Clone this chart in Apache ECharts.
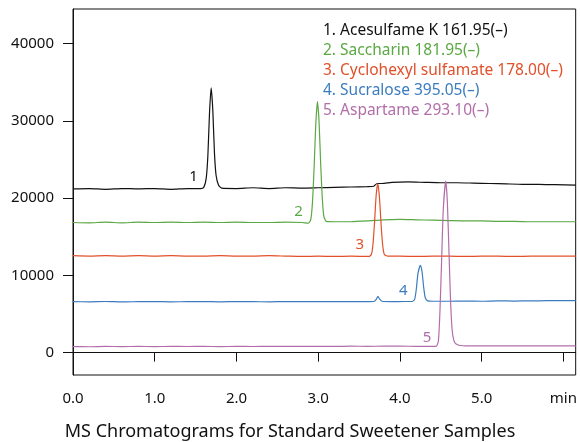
<!DOCTYPE html>
<html>
<head>
<meta charset="utf-8">
<script src="https://cdn.jsdelivr.net/npm/echarts@6/dist/echarts.min.js"></script>
<style>
html, body { margin: 0; padding: 0; background: #fff; }
#main { width: 580px; height: 442px; }
</style>
</head>
<body>
<div id="main"></div>
<script>
// 图例名称
var seriesNames = [
    '1. Acesulfame K 161.95(\u2013)',
    '2. Saccharin 181.95(\u2013)',
    '3. Cyclohexyl sulfamate 178.00(\u2013)',
    '4. Sucralose 395.05(\u2013)',
    '5. Aspartame 293.10(\u2013)'
];
var colorArr = ['#111111', '#5aa843', '#e2502a', '#3b7cc0', '#b26ea9'];

// 坐标轴刻度
var xTicks = [0, 1, 2, 3, 4, 5, 6];
var yTicks = [0, 10000, 20000, 30000, 40000];

// 各色谱数据 [时间(min), 强度]
var acesulfame = [
    [0, 21200], [0.2, 21250], [0.4, 21150], [0.6, 21250], [0.8, 21200], [1.0, 21250],
    [1.2, 21150], [1.4, 21250], [1.56, 21250], [1.60, 21400], [1.63, 22600], [1.65, 25500],
    [1.67, 31000], [1.69, 34300], [1.71, 31500], [1.73, 26000], [1.75, 23000], [1.78, 21700],
    [1.82, 21300], [2.0, 21250], [2.2, 21350], [2.4, 21250], [2.6, 21350], [2.8, 21300],
    [3.0, 21350], [3.2, 21400], [3.4, 21450], [3.6, 21500], [3.68, 21550], [3.72, 21900],
    [3.78, 21900], [3.9, 22050], [4.1, 22100], [4.3, 22050], [4.5, 22000], [4.7, 22000],
    [4.9, 21950], [5.1, 21900], [5.3, 21850], [5.5, 21800], [5.7, 21800], [5.9, 21750],
    [6.15, 21700]
];
var saccharin = [
    [0, 16850], [0.2, 16800], [0.4, 16900], [0.6, 16800], [0.8, 16900], [1.0, 16850],
    [1.2, 16900], [1.4, 16850], [1.6, 16900], [1.8, 16850], [2.0, 16900], [2.2, 16850],
    [2.4, 16850], [2.6, 16900], [2.8, 16850], [2.88, 16750], [2.91, 17300], [2.93, 19500],
    [2.95, 24000], [2.97, 29500], [2.99, 32500], [3.01, 30000], [3.03, 24500], [3.05, 20000],
    [3.07, 17600], [3.10, 17000], [3.2, 16950], [3.4, 16950], [3.6, 17050], [3.8, 17200],
    [4.0, 17250], [4.2, 17200], [4.4, 17150], [4.6, 17100], [4.8, 17050], [5.0, 17050],
    [5.2, 17000], [5.4, 17000], [5.6, 16950], [5.8, 16950], [6.15, 16950]
];
var cyclamate = [
    [0, 12550], [0.2, 12500], [0.4, 12550], [0.6, 12500], [0.8, 12550], [1.0, 12500],
    [1.2, 12550], [1.4, 12500], [1.6, 12500], [1.8, 12550], [2.0, 12500], [2.2, 12500],
    [2.4, 12550], [2.6, 12500], [2.8, 12450], [3.0, 12500], [3.2, 12450], [3.4, 12500],
    [3.62, 12450], [3.65, 12700], [3.67, 14000], [3.69, 17000], [3.71, 20500], [3.73, 21900],
    [3.75, 20000], [3.77, 16500], [3.79, 13800], [3.81, 12700], [3.85, 12500], [4.0, 12500],
    [4.2, 12450], [4.4, 12500], [4.6, 12500], [4.8, 12450], [5.0, 12500], [5.2, 12500],
    [5.4, 12450], [5.6, 12500], [5.8, 12500], [6.15, 12500]
];
var sucralose = [
    [0, 6600], [0.2, 6580], [0.4, 6620], [0.6, 6560], [0.8, 6600], [1.0, 6620],
    [1.2, 6580], [1.4, 6600], [1.6, 6620], [1.8, 6580], [2.0, 6620], [2.2, 6600],
    [2.4, 6580], [2.6, 6620], [2.8, 6600], [3.0, 6620], [3.2, 6600], [3.4, 6620],
    [3.6, 6600], [3.68, 6620], [3.71, 6900], [3.73, 7300], [3.75, 6950], [3.78, 6650],
    [3.9, 6600], [4.05, 6620], [4.15, 6620], [4.18, 6900], [4.20, 8200], [4.22, 10200],
    [4.25, 11300], [4.27, 10500], [4.29, 8500], [4.31, 7100], [4.34, 6700], [4.4, 6650],
    [4.6, 6650], [4.8, 6680], [5.0, 6650], [5.2, 6700], [5.4, 6680], [5.6, 6700],
    [5.8, 6720], [6.15, 6740]
];
var aspartame = [
    [0, 780], [0.2, 760], [0.4, 800], [0.6, 780], [0.8, 800], [1.0, 780],
    [1.2, 800], [1.4, 790], [1.6, 800], [1.8, 780], [2.0, 800], [2.2, 790],
    [2.4, 800], [2.6, 810], [2.8, 800], [3.0, 820], [3.2, 810], [3.4, 830],
    [3.6, 820], [3.8, 830], [4.0, 830], [4.2, 820], [4.44, 800], [4.47, 1500],
    [4.49, 5500], [4.51, 12000], [4.53, 18500], [4.56, 22200], [4.58, 19500], [4.60, 13000],
    [4.62, 6500], [4.64, 2800], [4.67, 1300], [4.72, 950], [4.8, 880], [5.0, 860],
    [5.2, 870], [5.4, 860], [5.6, 870], [5.8, 870], [6.15, 870]
];
var allData = [acesulfame, saccharin, cyclamate, sucralose, aspartame];

// 峰编号位置
var peakTags = ['1', '2', '3', '4', '5'];
var peakTagPos = [[1.475, 22800], [2.76, 18250], [3.51, 14000], [4.04, 8050], [4.33, 1950]];

var seriesArr = [];
for (var i = 0; i < allData.length; i++) {
    seriesArr.push({
        name: seriesNames[i],
        type: 'line',
        data: allData[i],
        showSymbol: false,
        symbol: 'none',
        smooth: 0.2,
        animation: false,
        lineStyle: { color: colorArr[i], width: 1.2 },
        itemStyle: { color: colorArr[i] },
        markPoint: {
            symbol: 'circle',
            symbolSize: 1,
            itemStyle: { color: 'rgba(0,0,0,0)' },
            label: {
                show: true,
                position: 'inside',
                formatter: peakTags[i],
                color: colorArr[i],
                fontSize: 15,
                fontFamily: 'Noto Sans'
            },
            data: [{ coord: peakTagPos[i] }]
        }
    });
}

var legendData = seriesNames.map(function (n, i) {
    return { name: n, textStyle: { color: colorArr[i] } };
});

var chart = echarts.init(document.getElementById('main'));
var option = {
    animation: false,
    title: {
        text: 'MS Chromatograms for Standard Sweetener Samples',
        left: 'center',
        top: 421,
        padding: 0,
        textStyle: { fontSize: 18, lineHeight: 22, fontWeight: 'normal', color: '#111', fontFamily: 'Noto Sans' }
    },
    legend: {
        orient: 'vertical',
        left: 318,
        top: 23,
        icon: 'none',
        itemWidth: 0,
        itemHeight: 15,
        itemGap: 4,
        padding: 0,
        selectedMode: false,
        textStyle: { fontSize: 15.5, lineHeight: 15, fontFamily: 'Noto Sans' },
        data: legendData
    },
    grid: {
        left: 73, right: 4, top: 9, bottom: 67,
        show: true, borderColor: '#111', borderWidth: 1
    },
    xAxis: {
        type: 'value',
        min: 0,
        max: 6.15,
        splitLine: { show: false },
        axisLine: { lineStyle: { color: '#111', width: 1 } },
        axisTick: { show: true, length: 9, lineStyle: { color: '#111' }, customValues: xTicks },
        axisLabel: {
            customValues: xTicks,
            margin: 16,
            color: '#111',
            fontSize: 15,
            fontFamily: 'Noto Sans',
            formatter: function (v) { return v === 6 ? 'min' : v.toFixed(1); }
        }
    },
    yAxis: {
        type: 'value',
        min: -2900,
        max: 44500,
        splitLine: { show: false },
        axisLine: { show: true, lineStyle: { color: '#111', width: 1 } },
        axisTick: { show: true, length: 10, lineStyle: { color: '#111' }, customValues: yTicks },
        axisLabel: {
            customValues: yTicks,
            margin: 19,
            color: '#111',
            fontSize: 15,
            fontFamily: 'Noto Sans',
            formatter: function (v) { return String(v); }
        }
    },
    series: seriesArr
};
chart.setOption(option);
</script>
</body>
</html>
